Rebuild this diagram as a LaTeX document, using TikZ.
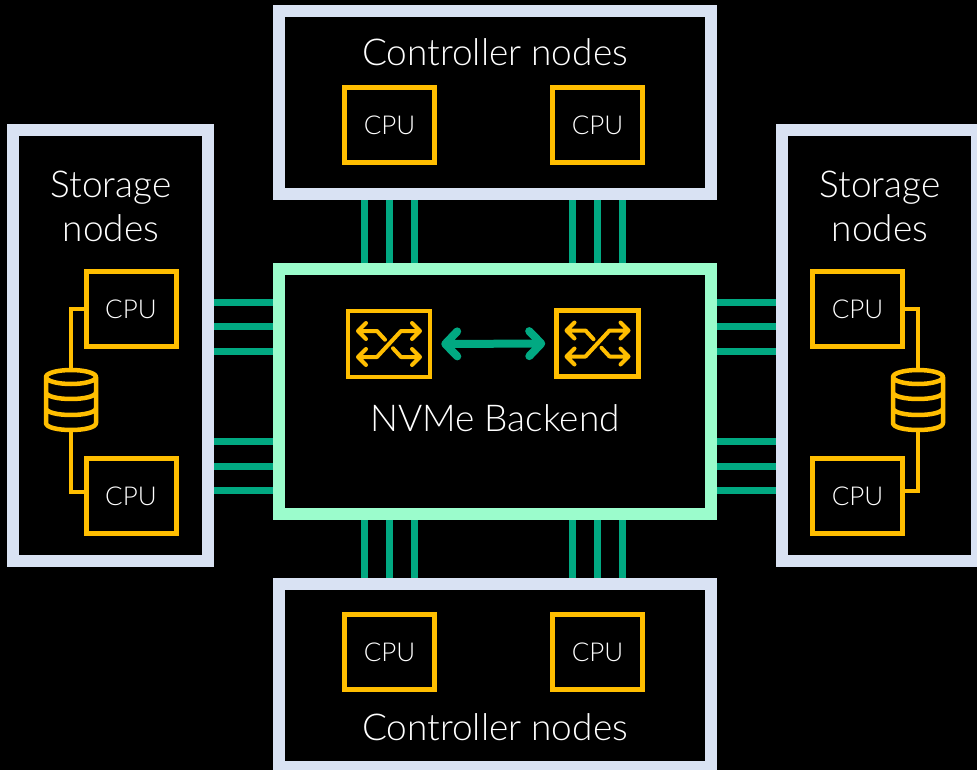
\documentclass[tikz,border=0pt]{standalone}
\usepackage{fontspec}
\setmainfont{Lato}[UprightFont=* Light]
\usetikzlibrary{arrows.meta,backgrounds}
\definecolor{borderblue}{RGB}{217,226,243}
\definecolor{coregreen}{RGB}{155,252,204}
\definecolor{linkgreen}{RGB}{1,169,130}
\definecolor{amber}{RGB}{255,190,0}
\tikzset{
  frame/.style={draw=borderblue, line width=12pt, fill=black, inner sep=0pt},
  corebox/.style={draw=coregreen, line width=12pt, fill=black, inner sep=0pt},
  cpu/.style={draw=amber, line width=5pt, fill=black, minimum width=90pt, minimum height=75pt, text=white, font=\fontsize{26}{30}\selectfont, inner sep=0pt},
  swbox/.style={draw=amber, line width=4.5pt, fill=black, minimum width=82pt, minimum height=66pt, inner sep=0pt},
  link/.style={draw=linkgreen, line width=7pt},
  yline/.style={draw=amber, line width=4.5pt},
  bigtext/.style={text=white, font=\fontsize{37}{44}\selectfont, align=center, inner sep=0pt},
  arr/.style={draw=linkgreen, line width=8pt, {Straight Barb[length=12pt,width=25pt,line cap=round,line join=round]}-{Straight Barb[length=12pt,width=25pt,line cap=round,line join=round]}},
  switchglyph/.pic={
    \draw[amber, line width=4pt, line cap=round, line join=round]
      (-31,13)--(-12,13)--(12,-13)--(31,-13)
      (-31,-13)--(-12,-13)--(-4,-4.3)
      (4,4.3)--(12,13)--(31,13)
      (-23,5)--(-31,13)--(-23,21)
      (-23,-21)--(-31,-13)--(-23,-5)
      (23,-21)--(31,-13)--(23,-5)
      (23,5)--(31,13)--(23,21);
  },
  dbicon/.pic={
    \draw[amber, line width=4.5pt, line join=round]
      (0,-23) ellipse [x radius=25, y radius=7]
      (-25,-23) -- (-25,23) .. controls (-25,32.33) and (25,32.33) .. (25,23) -- (25,-23)
      (-25,-8) .. controls (-25,1.33) and (25,1.33) .. (25,-8)
      (-25,8) .. controls (-25,17.33) and (25,17.33) .. (25,8);
    \coordinate (-top) at (0,-32);
    \coordinate (-bot) at (0,32);
  }
}
\begin{document}
\begin{tikzpicture}[x=1pt,y=-1pt]
\useasboundingbox (0,0) rectangle (977,770);

% top controller
\node[frame, minimum width=432pt, minimum height=183pt] (ctop) at (495,102.5) {};
\node[bigtext] (ctopl) at (495,52) {Controller nodes};
\node[cpu] (ct1) at (389.5,125) {CPU};
\node[cpu] (ct2) at (597.5,125) {CPU};

% core
\node[corebox, minimum width=432pt, minimum height=245pt] (core) at (495,391.5) {};
\node[bigtext] (corel) at (495,418) {NVMe Backend};
\node[swbox] (sw1) at (389,344) {};
\node[swbox] (sw2) at (597.5,343.5) {};
\pic at (sw1.center) {switchglyph};
\pic at (sw2.center) {switchglyph};
\draw[arr, shorten <=9pt, shorten >=9pt] (sw1.east) -- (sw2.west);

% bottom controller
\node[frame, minimum width=432pt, minimum height=183pt] (cbot) at (495,675.5) {};
\node[bigtext] (cbotl) at (495,727) {Controller nodes};
\node[cpu] (cb1) at (389.5,652) {CPU};
\node[cpu] (cb2) at (597.5,652) {CPU};

% left storage
\node[frame, minimum width=195pt, minimum height=431pt] (sl) at (110.5,345.5) {};
\node[bigtext] (sll) at (111,206) {Storage\\nodes};
\node[cpu] (sl1) at (131,309) {CPU};
\node[cpu] (sl2) at (131,496) {CPU};
\pic (dbl) at (71,400) {dbicon};
\draw[yline] (sl1.west) -| (dbl-top);
\draw[yline] ([yshift=4pt]sl2.west) -| (dbl-bot);

% right storage
\node[frame, minimum width=195pt, minimum height=431pt] (sr) at (879.5,345.5) {};
\node[bigtext] (srl) at (880,206) {Storage\\nodes};
\node[cpu] (sr1) at (857.5,309) {CPU};
\node[cpu] (sr2) at (857.5,496) {CPU};
\pic (dbr) at (918,400) {dbicon};
\draw[yline] (sr1.east) -| (dbr-top);
\draw[yline] ([yshift=5pt]sr2.east) -| (dbr-bot);

\begin{scope}[on background layer]
  \fill[black] (0,0) rectangle (977,770);
  \foreach \dx in {-25,0,25} {
    \draw[link] ([xshift=\dx pt]ct1.south |- ctop.south) -- ([xshift=\dx pt]ct1.south |- core.north);
    \draw[link] ([xshift=\dx pt]ct2.south |- ctop.south) -- ([xshift=\dx pt]ct2.south |- core.north);
    \draw[link] ([xshift=\dx pt]cb1.north |- core.south) -- ([xshift=\dx pt]cb1.north |- cbot.north);
    \draw[link] ([xshift=\dx pt]cb2.north |- core.south) -- ([xshift=\dx pt]cb2.north |- cbot.north);
  }
  \foreach \yy in {302,326.5,351,441,466,490.5} {
    \draw[link] (sl.east |- 0,\yy) -- (core.west |- 0,\yy);
    \draw[link] (core.east |- 0,\yy) -- (sr.west |- 0,\yy);
  }
\end{scope}
\end{tikzpicture}
\end{document}
